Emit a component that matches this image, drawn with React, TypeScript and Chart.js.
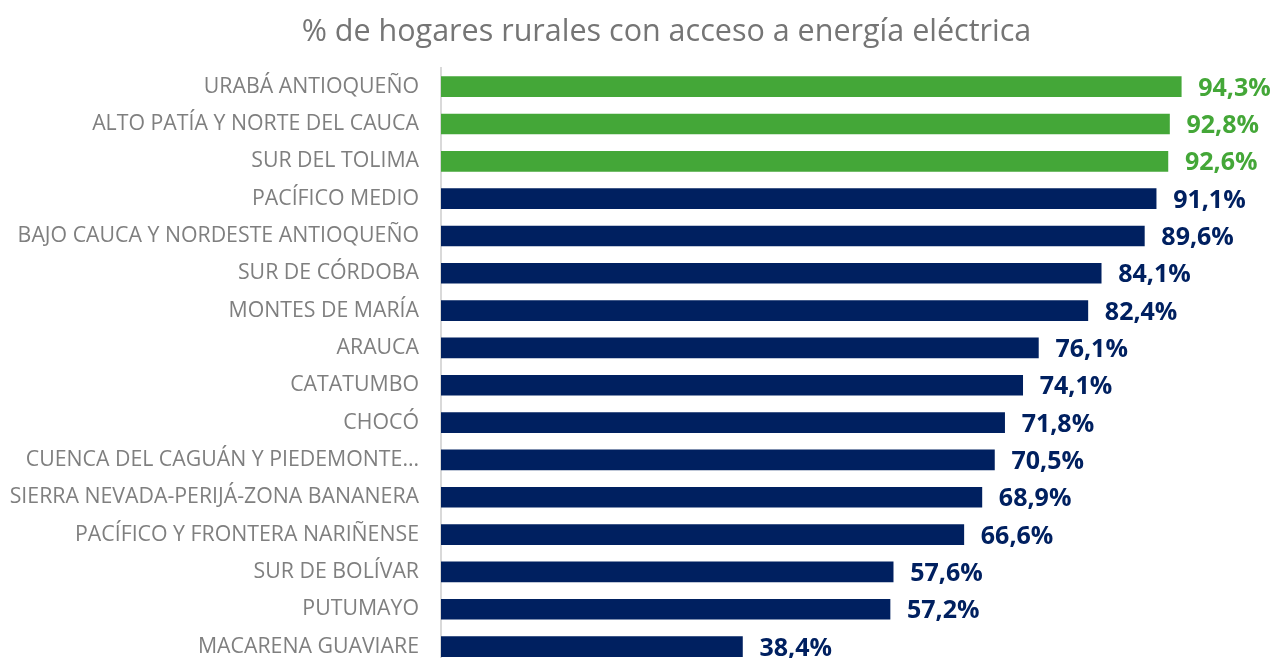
import React, { useEffect, useRef } from "react";
import { Chart, registerables } from "chart.js";

Chart.register(...registerables);

const categories = [
  "URABÁ ANTIOQUEÑO",
  "ALTO PATÍA Y NORTE DEL CAUCA",
  "SUR DEL TOLIMA",
  "PACÍFICO MEDIO",
  "BAJO CAUCA Y NORDESTE ANTIOQUEÑO",
  "SUR DE CÓRDOBA",
  "MONTES DE MARÍA",
  "ARAUCA",
  "CATATUMBO",
  "CHOCÓ",
  "CUENCA DEL CAGUÁN Y PIEDEMONTE…",
  "SIERRA NEVADA-PERIJÁ-ZONA BANANERA",
  "PACÍFICO Y FRONTERA NARIÑENSE",
  "SUR DE BOLÍVAR",
  "PUTUMAYO",
  "MACARENA GUAVIARE",
];

const values = [94.3, 92.8, 92.6, 91.1, 89.6, 84.1, 82.4, 76.1, 74.1, 71.8, 70.5, 68.9, 66.6, 57.6, 57.2, 38.4];

const highlightCount = 3;
const GREEN = "#44a738";
const NAVY = "#002060";
const colors = values.map((_, i) => (i < highlightCount ? GREEN : NAVY));

const titleText = "% de hogares rurales con acceso a energía eléctrica";
const FONT = "'Open Sans', 'Noto Sans', sans-serif";

const titlePlugin = {
  id: "centeredTitle",
  afterDraw(chart: any) {
    const ctx = chart.ctx;
    ctx.save();
    ctx.font = `30.5px ${FONT}`;
    ctx.fillStyle = "#757575";
    ctx.textAlign = "center";
    ctx.textBaseline = "middle";
    ctx.fillText(titleText, 666.5, 32);
    ctx.restore();
  },
};

const valueLabels = {
  id: "valueLabels",
  afterDatasetsDraw(chart: any) {
    const ctx = chart.ctx;
    const meta = chart.getDatasetMeta(0);
    ctx.save();
    ctx.font = `bold 25px ${FONT}`;
    ctx.textAlign = "left";
    ctx.textBaseline = "middle";
    meta.data.forEach((bar: any, i: number) => {
      ctx.fillStyle = colors[i];
      const txt = values[i].toFixed(1).replace(".", ",") + "%";
      ctx.fillText(txt, bar.x + 17, bar.y + 2);
    });
    ctx.restore();
  },
};

export default function App() {
  const ref = useRef<HTMLCanvasElement>(null);
  useEffect(() => {
    if (!ref.current) return;
    const chart = new Chart(ref.current, {
      type: "bar",
      data: {
        labels: categories,
        datasets: [
          {
            data: values,
            backgroundColor: colors,
            borderWidth: 0,
            barThickness: 20,
          },
        ],
      },
      options: {
        indexAxis: "y",
        responsive: true,
        maintainAspectRatio: false,
        animation: false,
        layout: { padding: { left: 0, right: 49, top: 68, bottom: 0 } },
        plugins: {
          legend: { display: false },
          tooltip: { enabled: false },
          title: { display: false },
        },
        scales: {
          x: {
            display: false,
            min: 0,
            max: 100,
          },
          y: {
            grid: {
              display: true,
              drawOnChartArea: false,
              drawTicks: true,
              tickLength: 22,
              color: "rgba(0,0,0,0)",
            },
            border: { display: true, color: "#d9d9d9", width: 2 },
            ticks: {
              color: "#7f7f7f",
              padding: 0,
              font: { family: FONT, size: 21.3 },
              autoSkip: false,
            },
            afterFit(scale: any) {
              scale.width = 441;
            },
          },
        },
      },
      plugins: [valueLabels, titlePlugin],
    });
    return () => chart.destroy();
  }, []);
  return (
    <div
      style={{
        position: "fixed",
        left: 0,
        top: 0,
        width: 1275,
        height: 658,
        overflow: "hidden",
        background: "#fff",
      }}
    >
      <div style={{ position: "relative", width: 1275, height: 678 }}>
        <canvas ref={ref} />
      </div>
    </div>
  );
}
